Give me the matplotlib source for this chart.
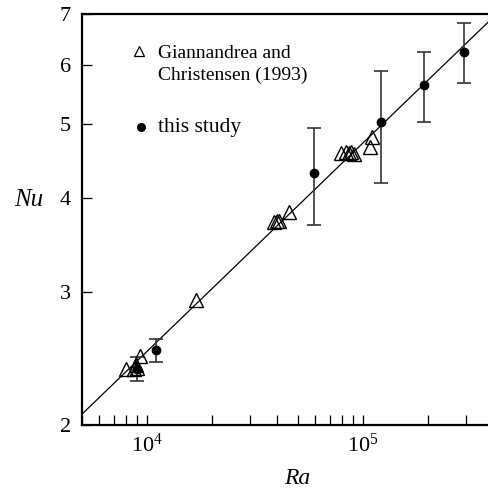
import numpy as np
import matplotlib
matplotlib.use("Agg")
import matplotlib.pyplot as plt
from matplotlib.ticker import FixedLocator, NullLocator, LogLocator, LogFormatterSciNotation, FixedFormatter

plt.rcParams["font.family"] = ["Liberation Serif", "DejaVu Serif"]
plt.rcParams["mathtext.fontset"] = "custom"
plt.rcParams["mathtext.rm"] = "Liberation Serif"
plt.rcParams["mathtext.it"] = "Liberation Serif:italic"

# ── Data ──────────────────────────────────────────────────────
# Giannandrea and Christensen (1993)
gc_ra = [8000, 8700, 8850, 9000, 9300, 16900,
         38800, 40000, 41000, 45400,
         79000, 83500, 86000, 88000, 91000, 107600, 110000]
gc_nu = [2.37, 2.37, 2.40, 2.38, 2.47, 2.93,
         3.71, 3.72, 3.72, 3.83,
         4.58, 4.59, 4.58, 4.59, 4.57, 4.67, 4.81]

# this study, with error range
ts_ra = [9000, 11000, 59300, 121000, 192000, 293000]
ts_nu = [2.37, 2.51, 4.31, 5.03, 5.64, 6.23]
ts_lo = [2.29, 2.42, 3.68, 4.18, 5.04, 5.67]
ts_hi = [2.46, 2.60, 4.95, 5.88, 6.23, 6.81]

# power-law fit Nu = C * Ra^b
fit_c = 0.197
fit_b = 0.276

ra_lim = (5000, 3.83e5)
nu_lim = (2, 7)
nu_ticks = [2, 3, 4, 5, 6, 7]

# ── Plot ──────────────────────────────────────────────────────
fig = plt.figure(figsize=(4.89, 4.91), dpi=100)
ax = fig.add_axes([82 / 489, 66 / 491, 407 / 489, 411 / 491])
ax.set_xscale("log")
ax.set_yscale("log")

ra_fit = np.logspace(np.log10(ra_lim[0]), np.log10(ra_lim[1]), 50)
ax.plot(ra_fit, fit_c * ra_fit ** fit_b, color="black", lw=0.9, zorder=2)

ts_ra_a = np.array(ts_ra)
ts_nu_a = np.array(ts_nu)
yerr = [ts_nu_a - np.array(ts_lo), np.array(ts_hi) - ts_nu_a]
ax.errorbar(ts_ra_a, ts_nu_a, yerr=yerr, fmt="o", color="black", ms=6,
            ecolor="#333333", elinewidth=1.2, capsize=5, capthick=1.2, zorder=3)

ax.plot(gc_ra, gc_nu, linestyle="none", marker="^", ms=9.5, mfc="none",
        mec="black", mew=1.0, zorder=4)

ax.set_xlim(*ra_lim)
ax.set_ylim(*nu_lim)

ax.xaxis.set_major_locator(LogLocator(base=10))
ax.xaxis.set_major_formatter(LogFormatterSciNotation())
ax.xaxis.set_minor_locator(LogLocator(base=10, subs=np.arange(2, 10)))
ax.xaxis.set_minor_formatter(plt.NullFormatter())
ax.yaxis.set_major_locator(FixedLocator(nu_ticks))
ax.yaxis.set_major_formatter(FixedFormatter([str(t) for t in nu_ticks]))
ax.yaxis.set_minor_locator(NullLocator())

ax.tick_params(axis="both", which="both", direction="in", length=7.5, width=0.9,
               top=False, right=False)
ax.tick_params(axis="x", which="major", labelsize=16, pad=6)
ax.tick_params(axis="y", which="major", labelsize=16, pad=8)

for side in ["left", "top", "bottom"]:
    ax.spines[side].set_linewidth(1.6)
ax.spines["right"].set_visible(False)

ax.set_xlabel("Ra", fontsize=17, style="italic")
ax.xaxis.set_label_coords(0.53, -0.105)
ax.set_ylabel("Nu", fontsize=18, style="italic", rotation=0)
ax.yaxis.set_label_coords(-0.13, 0.52)

# legend drawn by hand
ax.plot([0.140], [0.910], transform=ax.transAxes, marker="^", ms=7.5,
        mfc="none", mec="black", mew=0.9, linestyle="none", clip_on=False)
ax.text(0.187, 0.893, "Giannandrea and", transform=ax.transAxes,
        fontsize=14, va="baseline")
ax.text(0.187, 0.839, "Christensen (1993)", transform=ax.transAxes,
        fontsize=14, va="baseline")
ax.plot([0.145], [0.725], transform=ax.transAxes, marker="o", ms=5.5,
        color="black", linestyle="none", clip_on=False)
ax.text(0.187, 0.713, "this study", transform=ax.transAxes,
        fontsize=15.5, va="baseline")

fig.savefig("out.png", dpi=100)
